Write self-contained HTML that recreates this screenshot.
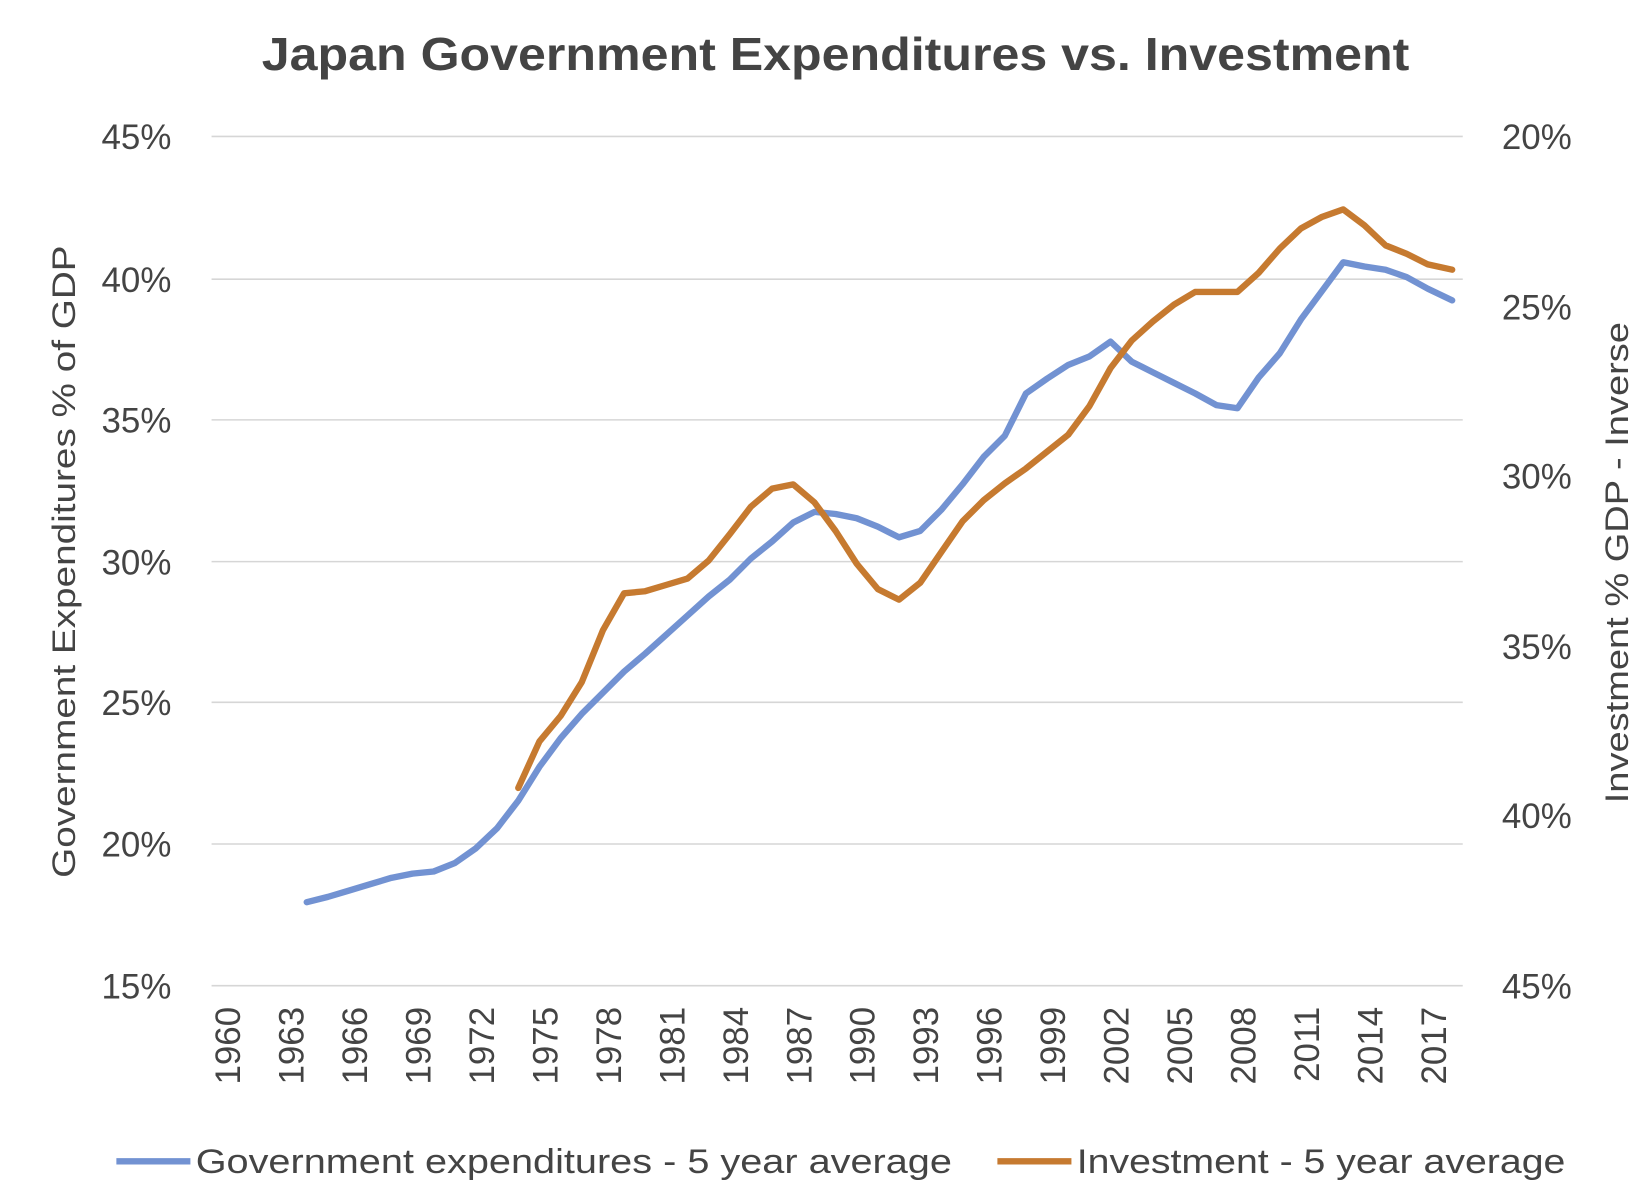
<!DOCTYPE html>
<html><head><meta charset="utf-8"><style>
html,body{margin:0;padding:0;background:#fff;}
svg{display:block;}
text{font-family:"Liberation Sans",sans-serif;fill:#444;}
</style></head><body>
<svg width="1650" height="1198" viewBox="0 0 1560 1132.7" xmlns="http://www.w3.org/2000/svg">
<text x="790" y="66" text-anchor="middle" font-size="44" font-weight="bold" textLength="1085" lengthAdjust="spacingAndGlyphs">Japan Government Expenditures vs. Investment</text>
<g stroke="#d6d6d6" stroke-width="1.5">
<line x1="200" x2="1383" y1="129" y2="129"/><line x1="200" x2="1383" y1="264" y2="264"/>
<line x1="200" x2="1383" y1="397" y2="397"/><line x1="200" x2="1383" y1="531" y2="531"/>
<line x1="200" x2="1383" y1="664" y2="664"/><line x1="200" x2="1383" y1="798" y2="798"/>
<line x1="200" x2="1383" y1="932" y2="932"/>
</g>
<g font-size="33" text-anchor="end">
<text x="162" y="141">45%</text><text x="162" y="276">40%</text><text x="162" y="409">35%</text>
<text x="162" y="543">30%</text><text x="162" y="676">25%</text><text x="162" y="810">20%</text><text x="162" y="944">15%</text>
</g>
<g font-size="33" text-anchor="start">
<text x="1420" y="141">20%</text><text x="1420" y="302">25%</text><text x="1420" y="462">30%</text>
<text x="1420" y="623">35%</text><text x="1420" y="783">40%</text><text x="1420" y="944">45%</text>
</g>
<g font-size="33" text-anchor="end">
<text transform="translate(227,952) rotate(-90)">1960</text>
<text transform="translate(287,952) rotate(-90)">1963</text>
<text transform="translate(347,952) rotate(-90)">1966</text>
<text transform="translate(407,952) rotate(-90)">1969</text>
<text transform="translate(467,952) rotate(-90)">1972</text>
<text transform="translate(527,952) rotate(-90)">1975</text>
<text transform="translate(587,952) rotate(-90)">1978</text>
<text transform="translate(647,952) rotate(-90)">1981</text>
<text transform="translate(707,952) rotate(-90)">1984</text>
<text transform="translate(767,952) rotate(-90)">1987</text>
<text transform="translate(827,952) rotate(-90)">1990</text>
<text transform="translate(887,952) rotate(-90)">1993</text>
<text transform="translate(947,952) rotate(-90)">1996</text>
<text transform="translate(1007,952) rotate(-90)">1999</text>
<text transform="translate(1067,952) rotate(-90)">2002</text>
<text transform="translate(1127,952) rotate(-90)">2005</text>
<text transform="translate(1187,952) rotate(-90)">2008</text>
<text transform="translate(1247,952) rotate(-90)">2011</text>
<text transform="translate(1307,952) rotate(-90)">2014</text>
<text transform="translate(1367,952) rotate(-90)">2017</text>
</g>
<text transform="translate(71,531) rotate(-90)" font-size="31" text-anchor="middle" textLength="598" lengthAdjust="spacingAndGlyphs">Government Expenditures % of GDP</text>
<text transform="translate(1539,532) rotate(-90)" font-size="31" text-anchor="middle" textLength="455" lengthAdjust="spacingAndGlyphs">Investment % GDP - Inverse</text>
<polyline fill="none" stroke="#7292d2" stroke-width="6" stroke-linejoin="round" stroke-linecap="round" points="290,853 310,848 330,842 350,836 370,830 390,826 410,824 430,816 450,802 470,783 490,757 510,725 530,698 550,675 570,655 590,635 610,618 630,600 650,582 670,564 690,548 710,528 730,512 750,494 770,484 790,486 810,490 830,498 850,508 870,502 890,482 910,458 930,432 950,412 970,372 990,358 1010,345 1030,337 1050,323 1070,342 1090,352 1110,362 1130,372 1150,383 1170,386 1190,357 1210,334 1230,302 1250,275 1270,248 1290,252 1310,255 1330,262 1350,273 1373,284"/>
<polyline fill="none" stroke="#c67a30" stroke-width="6" stroke-linejoin="round" stroke-linecap="round" points="490,745 510,701 530,677 550,645 570,596 590,561 610,559 630,553 650,547 670,530 690,505 710,479 730,462 750,458 770,475 790,502 810,533 830,557 850,567 870,551 890,522 910,493 930,473 950,457 970,443 990,427 1010,411 1030,384 1050,348 1070,322 1090,304 1110,288 1130,276 1150,276 1170,276 1190,258 1210,235 1230,216 1250,205 1270,198 1290,213 1310,232 1330,240 1350,250 1373,255"/>
<line x1="110" x2="180" y1="1098" y2="1098" stroke="#7292d2" stroke-width="6"/>
<text x="185" y="1109" font-size="32" textLength="715" lengthAdjust="spacingAndGlyphs">Government expenditures - 5 year average</text>
<line x1="943" x2="1013" y1="1098" y2="1098" stroke="#c67a30" stroke-width="6"/>
<text x="1018" y="1109" font-size="32" textLength="462" lengthAdjust="spacingAndGlyphs">Investment - 5 year average</text>
</svg>
</body></html>
